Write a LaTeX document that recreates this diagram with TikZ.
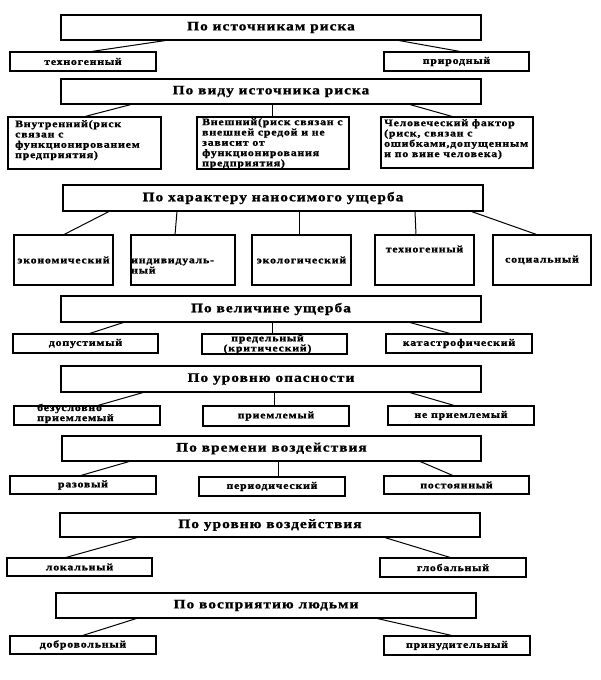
\documentclass[tikz,border=0pt]{standalone}
\usepackage{fontspec}
\setmainfont{Liberation Serif}[FakeStretch=1.18, LetterSpace=8, BoldFeatures={FakeBold=1.3}]
\newcommand\hfnt{\fontsize{13}{14}\selectfont\bfseries}
\newcommand\cfnt{\fontsize{10}{10.3}\selectfont\bfseries}
\newcommand\mkbox[7]{%
  \node[#1, minimum width={#5pt-#3pt}, minimum height={#6pt-#4pt}] (#2) at ({(#3+#5)/2},{-(#4+#6)/2}) {#7};}
\tikzset{
  hbox/.style={draw, line width=1.3pt, inner sep=0pt, outer sep=0pt, font=\hfnt},
  cbox/.style={draw, line width=1.3pt, inner sep=0pt, outer sep=0pt, font=\cfnt},
  txt/.style={inner sep=0pt, font=\cfnt},
  conn/.style={line width=1pt}
}
\newcommand\conn[4]{\draw[conn] (#1.south -| #2,0) -- (#3.north -| #4,0);}
\begin{document}
\begin{tikzpicture}[x=1pt,y=1pt]
\useasboundingbox (0,0) rectangle (600,-680);
% level 1
\mkbox{hbox}{h1}{61}{15}{481}{40}{По источникам риска}
\mkbox{cbox}{c11}{10}{52}{156}{71}{техногенный}
\mkbox{cbox}{c12}{384}{52}{529}{71}{природный}
\conn{h1}{169}{c11}{88}
\conn{h1}{396}{c12}{463}
% level 2
\mkbox{hbox}{h2}{61}{79}{481}{104}{По виду источника риска}
\mkbox{cbox}{c21}{8}{117}{161}{169}{}
\mkbox{cbox}{c22}{197}{117}{349}{169}{}
\mkbox{cbox}{c23}{381}{117}{533}{168}{}
\node[txt, anchor=north west, align=left] (t21) at ([xshift=7pt,yshift=-3pt]c21.north west) {Внутренний(риск\\связан с\\функционированием\\предприятия)};
\node[txt, anchor=north west, align=left] (t22) at ([xshift=5pt,yshift=-1pt]c22.north west) {Внешний(риск связан с\\внешней средой и не\\зависит от\\функционирования\\предприятия)};
\node[txt, anchor=north west, align=left] (t23) at ([xshift=3pt,yshift=-2pt]c23.north west) {Человеческий фактор\\(риск, связан с\\ошибками,допущенным\\и по вине человека)};
\conn{h2}{133}{c21}{83}
\conn{h2}{272}{c22}{272}
\conn{h2}{408}{c23}{454}
% level 3
\mkbox{hbox}{h3}{63}{185}{483}{211}{По характеру наносимого ущерба}
\mkbox{cbox}{c31}{14}{235}{113}{285}{экономический}
\mkbox{cbox}{c32}{131}{235}{235}{285}{}
\mkbox{cbox}{c33}{252}{235}{351}{285}{экологический}
\mkbox{cbox}{c34}{375}{235}{474}{285}{}
\mkbox{cbox}{c35}{493}{235}{591}{285}{социальный}
\node[txt, anchor=west, align=left] (t32) at ([yshift=-6pt]c32.west) {индивидуаль-\\ный};
\node[txt] (t34) at ([yshift=11pt]c34.center) {техногенный};
\conn{h3}{110}{c31}{63}
\conn{h3}{177}{c32}{175}
\conn{h3}{299}{c33}{299}
\conn{h3}{415}{c34}{416}
\conn{h3}{470}{c35}{538}
% level 4
\mkbox{hbox}{h4}{61}{296}{481}{322}{По величине ущерба}
\mkbox{cbox}{c41}{13}{334}{158}{353}{допустимый}
\mkbox{cbox}{c42}{202}{334}{347}{354}{}
\mkbox{cbox}{c43}{386}{334}{532}{353}{катастрофический}
\node[txt, align=center, font=\fontsize{10}{8.5}\selectfont\bfseries] (t42) at ([xshift=-7pt]c42.center) {предельный\\(критический)};
\conn{h4}{125}{c41}{88}
\conn{h4}{272}{c42}{272}
\conn{h4}{408}{c43}{452}
% level 5
\mkbox{hbox}{h5}{61}{366}{481}{392}{По уровню опасности}
\mkbox{cbox}{c51}{14}{406}{160}{425}{}
\mkbox{cbox}{c52}{203}{406}{349}{426}{приемлемый}
\mkbox{cbox}{c53}{388}{406}{534}{425}{не приемлемый}
\node[txt, anchor=west, align=left, font=\fontsize{10}{9}\selectfont\bfseries] (t51) at ([xshift=23pt,yshift=2pt]c51.west) {безусловно\\приемлемый};
\conn{h5}{145}{c51}{96}
\conn{h5}{274}{c52}{274}
\conn{h5}{408}{c53}{456}
% level 6
\mkbox{hbox}{h6}{62}{436}{481}{461}{По времени воздействия}
\mkbox{cbox}{c61}{10}{476}{156}{494}{разовый}
\mkbox{cbox}{c62}{199}{477}{345}{496}{периодический}
\mkbox{cbox}{c63}{384}{476}{529}{494}{постоянный}
\conn{h6}{131}{c61}{79}
\conn{h6}{278}{c62}{278}
\conn{h6}{419}{c63}{454}
% level 7
\mkbox{hbox}{h7}{60}{513}{480}{537}{По уровню воздействия}
\mkbox{cbox}{c71}{7}{558}{152}{576}{локальный}
\mkbox{cbox}{c72}{380}{558}{526}{577}{глобальный}
\conn{h7}{139}{c71}{64}
\conn{h7}{383}{c72}{452}
% level 8
\mkbox{hbox}{h8}{56}{593}{476}{618}{По восприятию людьми}
\mkbox{cbox}{c81}{10}{636}{156}{654}{добровольный}
\mkbox{cbox}{c82}{384}{636}{530}{655}{принудительный}
\conn{h8}{138}{c81}{81}
\conn{h8}{375}{c82}{454}
\end{tikzpicture}
\end{document}
